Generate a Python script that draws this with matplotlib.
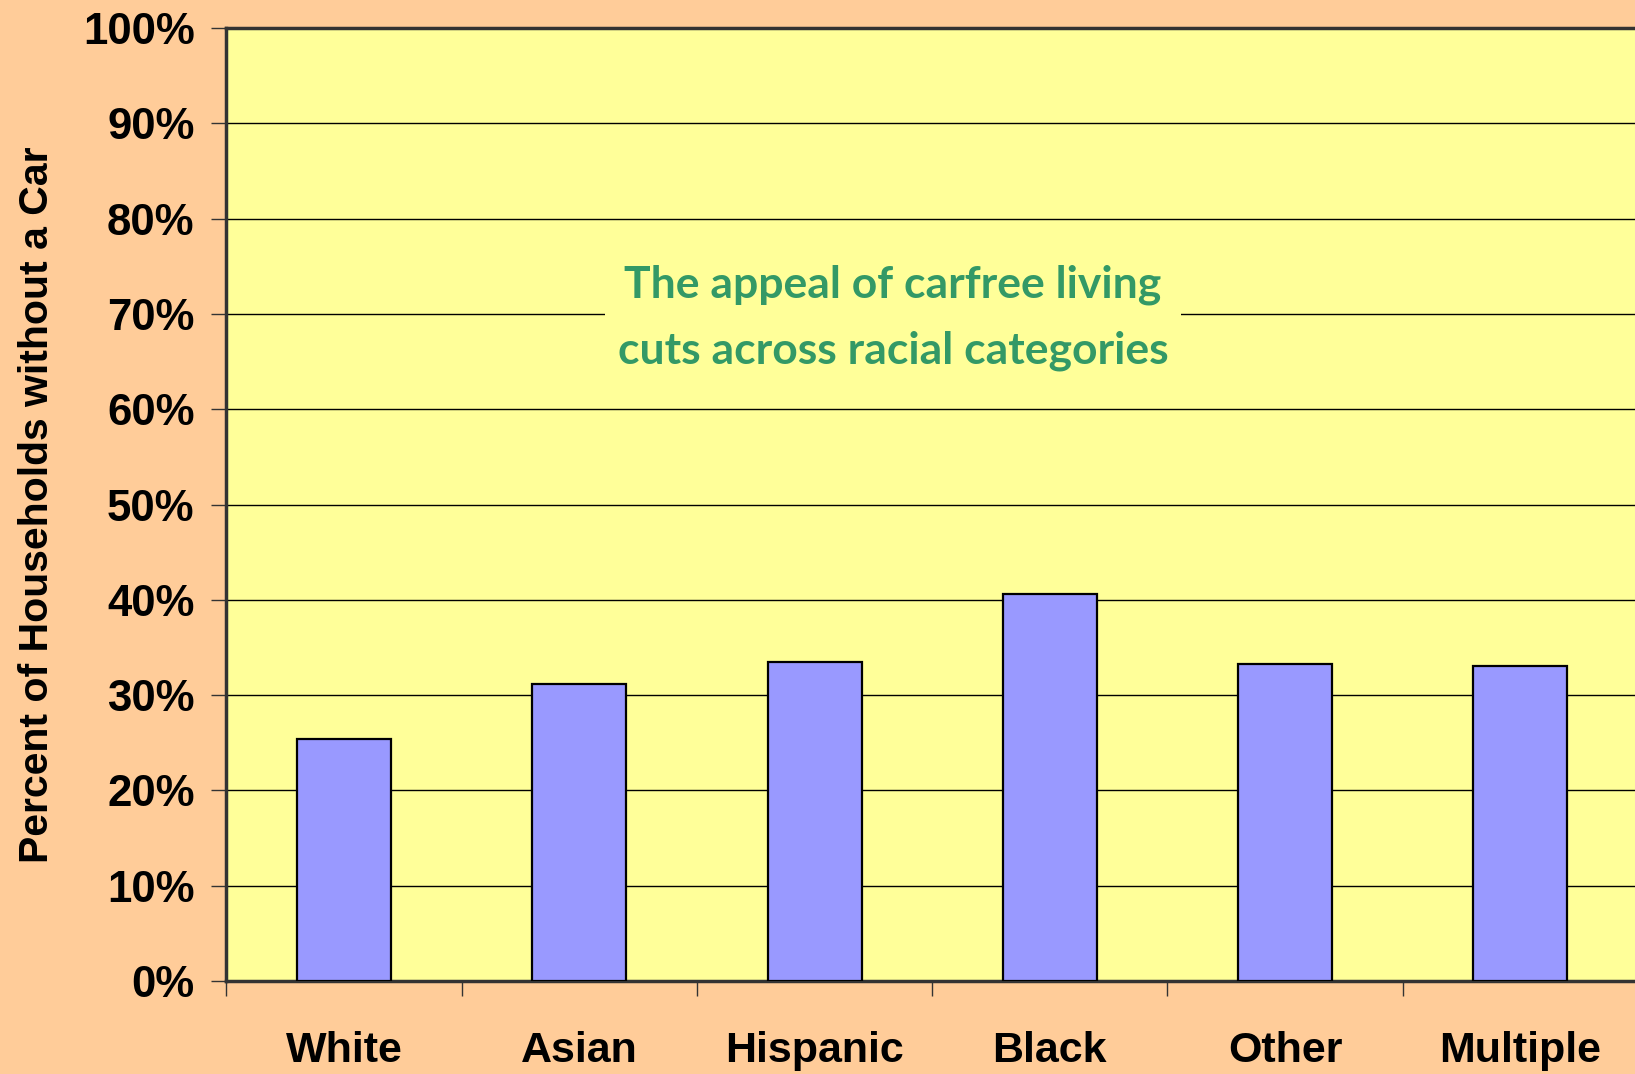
import matplotlib
matplotlib.use("Agg")
import matplotlib.pyplot as plt
import numpy as np

# values
groups = ["White", "Asian", "Hispanic", "Black", "Other", "Multiple"]
pct_no_car = [25.4, 31.2, 33.5, 40.6, 33.3, 33.1]
yticks = [0, 10, 20, 30, 40, 50, 60, 70, 80, 90, 100]
note = "The appeal of carfree living\ncuts across racial categories"

plt.rcParams['font.family'] = ['Liberation Sans', 'DejaVu Sans']

fig = plt.figure(figsize=(16.35, 10.74), dpi=100, facecolor='#FFCC99')
ax = fig.add_axes([0.1385, 0.0866, 0.8633, 0.8873])
ax.set_facecolor('#FFFF99')

x = np.arange(len(groups))
ax.bar(x, pct_no_car, width=0.40, color='#9999FF', edgecolor='black',
	linewidth=1.6, zorder=3)

ax.set_xlim(-0.5, len(groups) - 0.5)
ax.set_ylim(0, 100)
ax.set_yticks(yticks)
ax.set_yticklabels(["%d%%" % t for t in yticks], fontsize=31.5, fontweight='bold')
ax.yaxis.grid(True, color='black', linewidth=1.0, zorder=1)
ax.set_axisbelow(True)

# category labels centred, ticks between categories
ax.set_xticks(np.arange(-0.5, len(groups), 1.0))
ax.set_xticklabels([])
ax.set_xticks(x, minor=True)
ax.set_xticklabels(groups, minor=True, fontsize=31, fontweight='bold')
ax.tick_params(axis='x', which='minor', length=0, pad=36)
ax.tick_params(axis='x', which='major', length=11, width=1.0, color='#333333')
ax.tick_params(axis='y', length=11, width=1.0, color='#333333', pad=12)

for side in ['left', 'bottom', 'top']:
	ax.spines[side].set_color('#333333')
	ax.spines[side].set_linewidth(2.5)
ax.spines['right'].set_visible(False)

ax.set_ylabel("Percent of Households without a Car", fontsize=29.5,
	fontweight='bold')
ax.yaxis.set_label_coords(-0.121, 0.5)

ax.text(2.333, 69.6, note, ha='center', va='center', fontsize=32,
	fontweight='bold', color='#339966', family=['Lato', 'DejaVu Sans'],
	linespacing=1.78, zorder=4,
	bbox=dict(facecolor='#FFFF99', edgecolor='none', pad=9))

fig.savefig("out.png", dpi=100, facecolor=fig.get_facecolor())
